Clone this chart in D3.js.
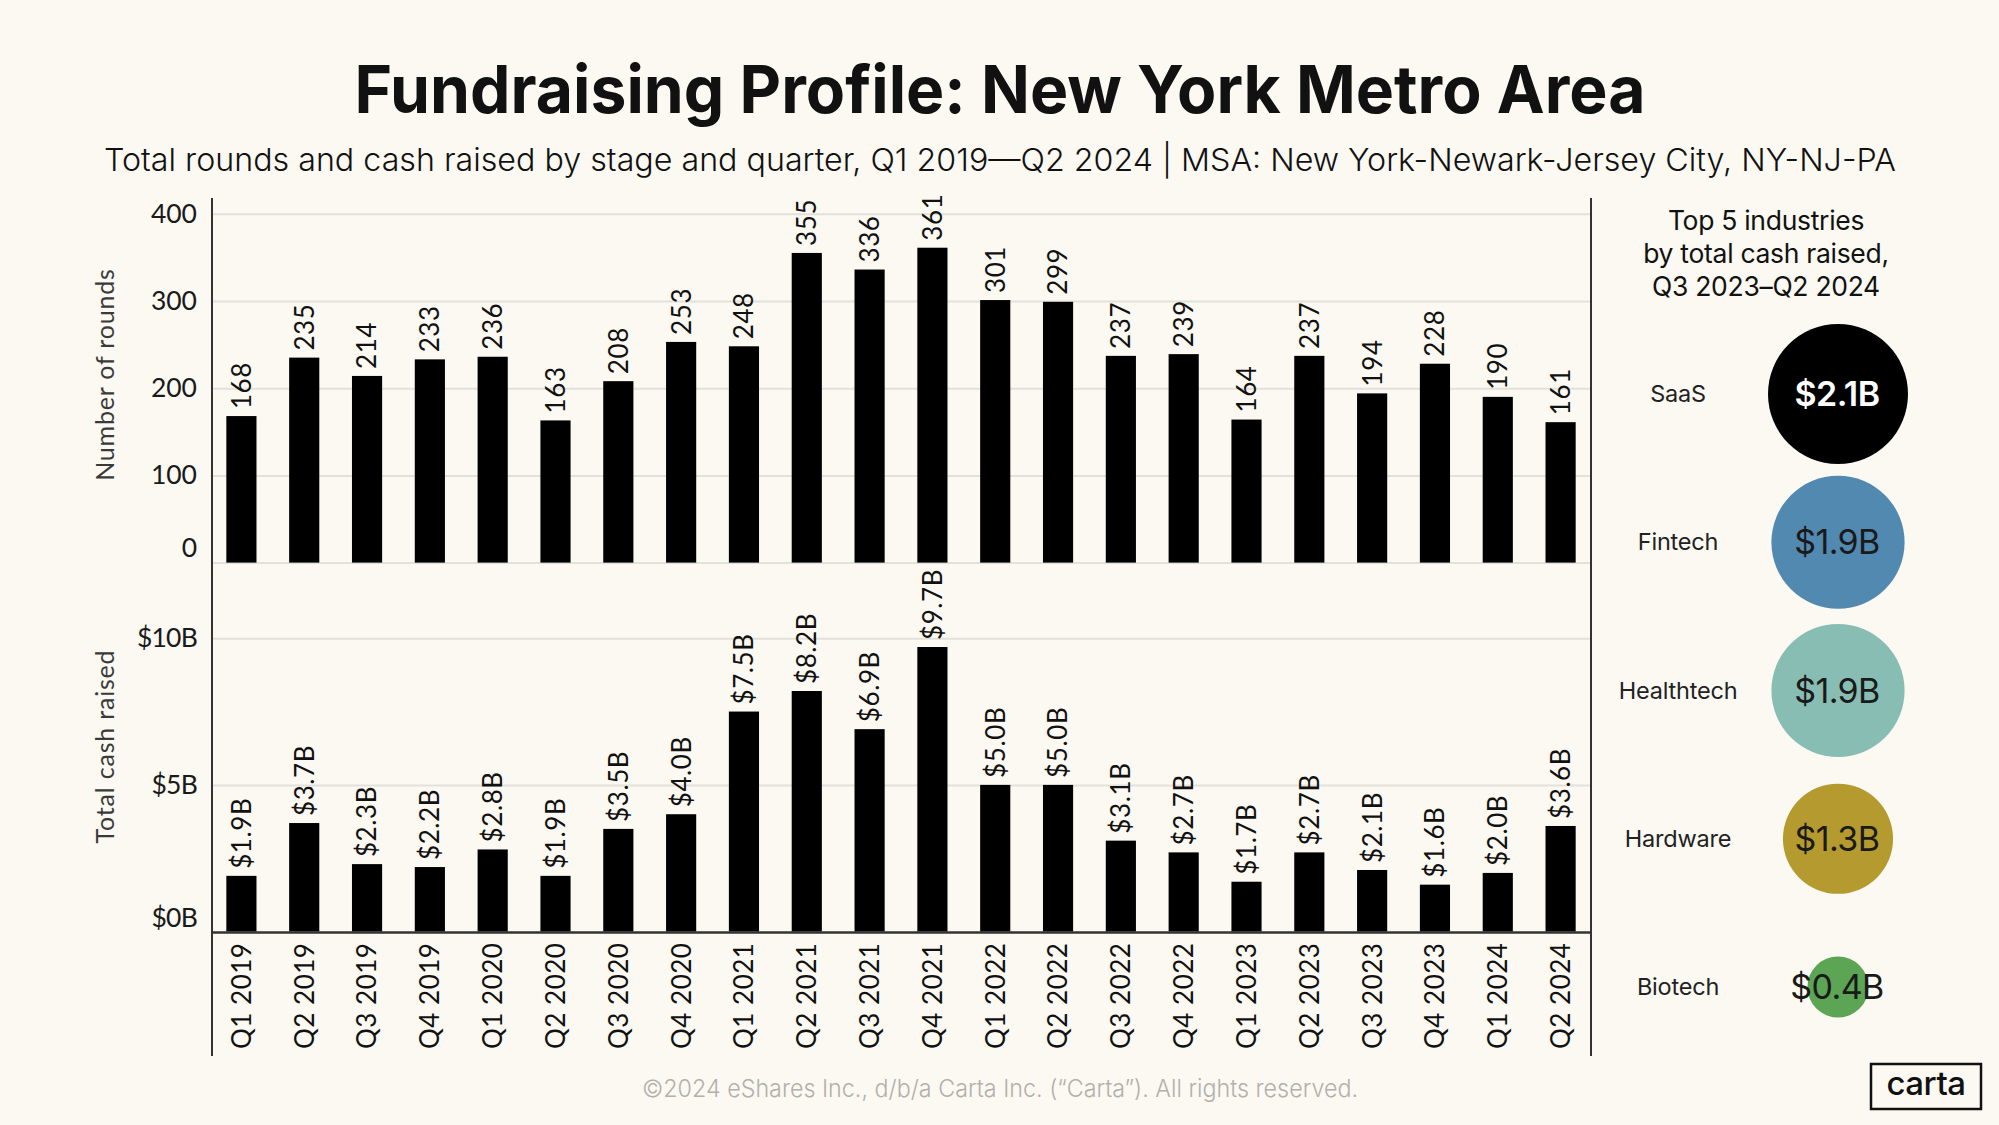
<!DOCTYPE html>
<html>
<head>
<meta charset="utf-8">
<script src="https://cdn.jsdelivr.net/npm/d3@7"></script>
<style>
  html, body { margin: 0; padding: 0; background: #fbf9f2; }
  svg { display: block; }
</style>
</head>
<body>
<svg id="chart" width="1999" height="1125"></svg>
<script>
// ---------- DATA ----------
const quarters = ["Q1 2019","Q2 2019","Q3 2019","Q4 2019","Q1 2020","Q2 2020","Q3 2020","Q4 2020",
  "Q1 2021","Q2 2021","Q3 2021","Q4 2021","Q1 2022","Q2 2022","Q3 2022","Q4 2022",
  "Q1 2023","Q2 2023","Q3 2023","Q4 2023","Q1 2024","Q2 2024"];
const rounds = [168,235,214,233,236,163,208,253,248,355,336,361,301,299,237,239,164,237,194,228,190,161];
const cashB = [1.9,3.7,2.3,2.2,2.8,1.9,3.5,4.0,7.5,8.2,6.9,9.7,5.0,5.0,3.1,2.7,1.7,2.7,2.1,1.6,2.0,3.6];
const roundTicks = [0,100,200,300,400];
const cashTicks = [0,5,10];
const industries = ["SaaS","Fintech","Healthtech","Hardware","Biotech"];
const industryCash = [2.1,1.9,1.9,1.3,0.4];
const industryColors = ["#000000","#5289b0","#88bdb3","#b59a2f","#5ba554"];

const titleText = "Fundraising Profile: New York Metro Area";
const subtitleText = "Total rounds and cash raised by stage and quarter, Q1 2019\u2014Q2 2024 | MSA: New York-Newark-Jersey City, NY-NJ-PA";
const sideTitle = ["Top 5 industries","by total cash raised,","Q3 2023\u2013Q2 2024"];
const footerText = "\u00A92024 eShares Inc., d/b/a Carta Inc. (\u201CCarta\u201D). All rights reserved.";

// ---------- LAYOUT ----------
const svg = d3.select("#chart");
const FONT = "Lato, 'Open Sans', sans-serif";
const SANS = "Inter, Lato, sans-serif";
const plotL = 212, plotR = 1591, plotTop = 198, plotBottom = 1056;
const inkColor = "#111";

svg.append("rect").attr("width",1999).attr("height",1125).attr("fill","#fbf9f2");

const x = d3.scaleBand().domain(quarters).range([210,1592]).paddingInner(0.52).paddingOuter(0.26);
const yTop = d3.scaleLinear().domain([0,400]).range([562.6,213.7]);
const yBot = d3.scaleLinear().domain([0,10]).range([931.6,638.2]);

function fitText(sel, width) {
  sel.attr("textLength", width).attr("lengthAdjust","spacingAndGlyphs");
}

// Title
svg.append("text").attr("x",1000).attr("y",113).attr("text-anchor","middle")
  .attr("font-family",SANS).attr("font-weight",700).attr("font-size",66)
  .attr("fill",inkColor).text(titleText).call(fitText,1291);
// Subtitle
svg.append("text").attr("x",1000).attr("y",171).attr("text-anchor","middle")
  .attr("font-family",SANS).attr("font-weight",300).attr("font-size",31.5)
  .attr("fill",inkColor).text(subtitleText).call(fitText,1792);

// ---------- TOP PANEL (rounds) ----------
const gTop = svg.append("g");
const axTop = gTop.append("g").attr("transform",`translate(${plotL},0)`)
  .call(d3.axisLeft(yTop).tickValues(roundTicks).tickSize(-(plotR-plotL)).tickPadding(15).tickFormat(d3.format("d")));
axTop.select(".domain").remove();
axTop.selectAll(".tick line").attr("stroke","#e3e1dc").attr("stroke-width",2);
axTop.selectAll(".tick text").attr("font-family",FONT).attr("font-size",26.5).attr("fill","#1a1a1a")
  .attr("dy", d => d === 0 ? "-0.22em" : "0.32em");

gTop.selectAll("rect.bar").data(rounds).join("rect").attr("class","bar")
  .attr("x",(d,i)=>x(quarters[i])).attr("width",x.bandwidth())
  .attr("y",d=>yTop(d)).attr("height",d=>yTop(0)-yTop(d)).attr("fill","#000");

gTop.selectAll("text.val").data(rounds).join("text").attr("class","val")
  .attr("transform",(d,i)=>`translate(${x(quarters[i])+x.bandwidth()/2},${yTop(d)-7}) rotate(-90)`)
  .attr("dy","0.36em").attr("font-family",FONT).attr("font-weight",400).attr("font-size",26)
  .attr("letter-spacing",0.6).attr("fill","#111")
  .text(d=>d);

// ---------- BOTTOM PANEL (cash) ----------
const gBot = svg.append("g");
const axBot = gBot.append("g").attr("transform",`translate(${plotL},0)`)
  .call(d3.axisLeft(yBot).tickValues(cashTicks).tickSize(-(plotR-plotL)).tickPadding(15).tickFormat(d=>`$${d}B`));
axBot.select(".domain").remove();
axBot.selectAll(".tick line").attr("stroke",d=>d===0?"none":"#e3e1dc").attr("stroke-width",2);
axBot.selectAll(".tick text").attr("font-family",FONT).attr("font-size",26.5).attr("fill","#1a1a1a")
  .attr("letter-spacing",-0.8)
  .attr("dy", d => d === 0 ? "-0.18em" : "0.32em");

gBot.selectAll("rect.bar").data(cashB).join("rect").attr("class","bar")
  .attr("x",(d,i)=>x(quarters[i])).attr("width",x.bandwidth())
  .attr("y",d=>yBot(d)).attr("height",d=>yBot(0)-yBot(d)).attr("fill","#000");

gBot.selectAll("text.val").data(cashB).join("text").attr("class","val")
  .attr("transform",(d,i)=>`translate(${x(quarters[i])+x.bandwidth()/2},${yBot(d)-7}) rotate(-90)`)
  .attr("dy","0.36em").attr("font-family",FONT).attr("font-weight",400).attr("font-size",26)
  .attr("letter-spacing",0.6).attr("fill","#111")
  .text(d=>`$${d.toFixed(1)}B`);

// X axis
const axX = svg.append("g").attr("transform",`translate(0,${yBot(0)})`)
  .call(d3.axisBottom(x).tickSize(0));
axX.select(".domain").remove();
axX.selectAll(".tick text").attr("y",0).attr("dy","0.36em")
  .attr("transform","translate(0,11) rotate(-90)").attr("text-anchor","end")
  .attr("font-family",FONT).attr("font-weight",400).attr("font-size",26)
  .attr("letter-spacing",0.5).attr("fill","#111");

// Frame lines
svg.append("line").attr("x1",plotL).attr("x2",plotL).attr("y1",plotTop).attr("y2",plotBottom)
  .attr("stroke","#333").attr("stroke-width",2);
svg.append("line").attr("x1",plotR).attr("x2",plotR).attr("y1",plotTop).attr("y2",plotBottom)
  .attr("stroke","#333").attr("stroke-width",2);
svg.append("line").attr("x1",plotL).attr("x2",plotR).attr("y1",yBot(0)+1).attr("y2",yBot(0)+1)
  .attr("stroke","#333").attr("stroke-width",2.5);

// Axis titles
svg.append("text").attr("transform",`translate(105,374.6) rotate(-90)`).attr("text-anchor","middle")
  .attr("dy","0.35em").attr("font-family",FONT).attr("font-weight",400).attr("font-size",25).attr("fill","#3a3a3a")
  .attr("letter-spacing",0.8).text("Number of rounds");
svg.append("text").attr("transform",`translate(105,746.5) rotate(-90)`).attr("text-anchor","middle")
  .attr("dy","0.35em").attr("font-family",FONT).attr("font-weight",400).attr("font-size",25).attr("fill","#3a3a3a")
  .attr("letter-spacing",0.8).text("Total cash raised");

// ---------- SIDE PANEL ----------
svg.append("g").selectAll("text").data(sideTitle).join("text")
  .attr("x",1766).attr("y",(d,i)=>230+i*33).attr("text-anchor","middle")
  .attr("font-family",SANS).attr("font-size",26.5).attr("fill",inkColor)
  .attr("letter-spacing",-0.3).text(d=>d);

const yInd = d3.scalePoint().domain(industries).range([394,987]);
const rInd = d3.scaleSqrt().domain([0,2.1]).range([0,70]);
const gInd = svg.append("g");
gInd.selectAll("circle").data(industries).join("circle")
  .attr("cx",1838).attr("cy",d=>yInd(d)).attr("r",(d,i)=>rInd(industryCash[i]))
  .attr("fill",(d,i)=>industryColors[i]);
gInd.selectAll("text.name").data(industries).join("text").attr("class","name")
  .attr("x",1678).attr("y",d=>yInd(d)).attr("dy","0.35em").attr("text-anchor","middle")
  .attr("font-family",SANS).attr("font-size",23.5).attr("fill","#222")
  .attr("letter-spacing",-0.2).text(d=>d);
gInd.selectAll("text.amt").data(industries).join("text").attr("class","amt")
  .attr("x",1837).attr("y",d=>yInd(d)).attr("dy","0.36em").attr("text-anchor","middle")
  .attr("font-family",SANS).attr("font-size",34)
  .attr("font-weight",(d,i)=>i===0?600:400)
  .attr("fill",(d,i)=>i===0?"#fff":"#1a1a1a").attr("letter-spacing",-0.6)
  .text((d,i)=>`$${industryCash[i].toFixed(1)}B`);

// Footer
svg.append("text").attr("x",1000).attr("y",1097).attr("text-anchor","middle")
  .attr("font-family",SANS).attr("font-weight",300).attr("font-size",24)
  .attr("fill","#b2b0ab").text(footerText).call(fitText,716);

// Carta logo
svg.append("rect").attr("x",1871).attr("y",1064).attr("width",110).attr("height",45)
  .attr("fill","none").attr("stroke","#111").attr("stroke-width",2.5);
svg.append("text").attr("x",1926).attr("y",1095).attr("text-anchor","middle")
  .attr("font-family",SANS).attr("font-weight",500).attr("font-size",33)
  .attr("fill","#111").attr("letter-spacing",-0.5).text("carta");
</script>
</body>
</html>
